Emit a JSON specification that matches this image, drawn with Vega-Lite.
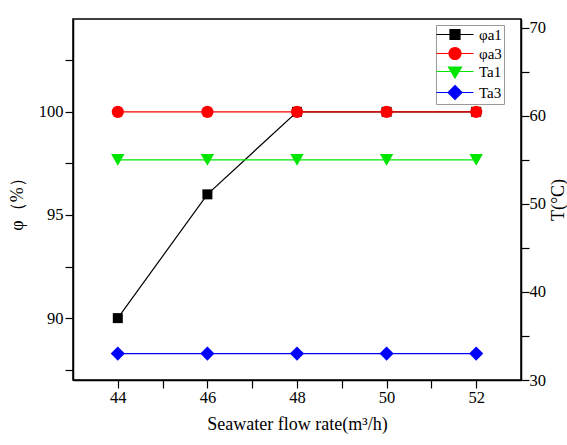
{
  "$schema": "https://vega.github.io/schema/vega-lite/v6.json",
  "width": 448,
  "height": 361,
  "autosize": {"type": "none"},
  "padding": {"left": 73, "top": 19, "right": 46, "bottom": 65},
  "background": "white",
  "config": {
    "font": "Liberation Serif",
    "view": {"stroke": "black", "strokeWidth": 1.5},
    "axis": {
      "grid": false,
      "zindex": 2,
      "domainColor": "black",
      "domainWidth": 1.5,
      "tickColor": "black",
      "tickWidth": 1.2,
      "labelColor": "black",
      "titleColor": "black",
      "labelFont": "Liberation Serif",
      "titleFont": "Liberation Serif",
      "labelFontSize": 16.5,
      "titleFontSize": 18,
      "titleFontWeight": "normal"
    }
  },
  "data": {
    "values": [
      {"x": 44, "series": "φa1", "v": 90},
      {"x": 46, "series": "φa1", "v": 96},
      {"x": 48, "series": "φa1", "v": 100},
      {"x": 50, "series": "φa1", "v": 100},
      {"x": 52, "series": "φa1", "v": 100},
      {"x": 44, "series": "φa3", "v": 100},
      {"x": 46, "series": "φa3", "v": 100},
      {"x": 48, "series": "φa3", "v": 100},
      {"x": 50, "series": "φa3", "v": 100},
      {"x": 52, "series": "φa3", "v": 100},
      {"x": 44, "series": "Ta1", "v": 55},
      {"x": 46, "series": "Ta1", "v": 55},
      {"x": 48, "series": "Ta1", "v": 55},
      {"x": 50, "series": "Ta1", "v": 55},
      {"x": 52, "series": "Ta1", "v": 55},
      {"x": 44, "series": "Ta3", "v": 33},
      {"x": 46, "series": "Ta3", "v": 33},
      {"x": 48, "series": "Ta3", "v": 33},
      {"x": 50, "series": "Ta3", "v": 33},
      {"x": 52, "series": "Ta3", "v": 33}
    ]
  },
  "encoding": {
    "x": {
      "field": "x",
      "type": "quantitative",
      "scale": {"domain": [43, 53], "nice": false, "zero": false},
      "axis": {
        "title": "Seawater flow rate(m³/h)",
        "values": [44, 45, 46, 47, 48, 49, 50, 51, 52],
        "labelExpr": "datum.value % 2 == 0 ? datum.label : ''",
        "tickSize": 8,
        "labelPadding": 1,
        "titlePadding": 10,
        "encode": {"ticks": {"update": {"y2": {"signal": "datum.value % 2 == 0 ? -8 : -4"}}}}
      }
    },
    "color": {
      "field": "series",
      "type": "nominal",
      "scale": {"domain": ["φa1", "φa3", "Ta1", "Ta3"], "range": ["#000000", "#ff0000", "#00e600", "#0000ff"]},
      "legend": {
        "title": null,
        "orient": "none",
        "legendX": 363,
        "legendY": 6,
        "direction": "vertical",
        "strokeColor": "#999999",
        "fillColor": "white",
        "padding": 2,
        "symbolSize": 100,
        "symbolStrokeWidth": 1.2,
        "labelFont": "Liberation Serif",
        "labelFontSize": 15,
        "labelColor": "black",
        "labelOffset": 26,
        "rowPadding": 2,
        "encode": {
          "symbols": {
            "update": {
              "shape": {"signal": "datum.value == 'φa1' ? 'M-1.8,0H5.6M0.9,-1H2.9V1H0.9Z' : datum.value == 'φa3' ? 'M-1.8,0H5.6M0.7,0A1.2,1.2,0,1,1,3.1,0A1.2,1.2,0,1,1,0.7,0Z' : datum.value == 'Ta1' ? 'M-1.8,0H5.6M0.6,-0.9H3.2L1.9,1.3Z' : 'M-1.8,0H5.6M1.9,-1.4L3.3,0L1.9,1.4L0.5,0Z'"},
              "fill": {"signal": "scale('color', datum.value)"},
              "stroke": {"signal": "scale('color', datum.value)"},
              "opacity": {"value": 1}
            }
          }
        }
      }
    }
  },
  "layer": [
    {
      "transform": [{"filter": "datum.series == 'φa1' || datum.series == 'φa3'"}],
      "encoding": {
        "y": {
          "field": "v",
          "type": "quantitative",
          "scale": {"domain": [87, 104.5], "nice": false, "zero": false},
          "axis": {
            "orient": "left",
            "title": "φ（%）",
            "values": [87.5, 90, 92.5, 95, 97.5, 100, 102.5],
            "labelExpr": "datum.value % 5 == 0 ? datum.label : ''",
            "tickSize": 8,
            "labelPadding": 2,
            "titlePadding": 12,
            "encode": {"ticks": {"update": {"x2": {"signal": "datum.value % 5 == 0 ? 8 : 4"}}}}
          }
        }
      },
      "layer": [
        {"mark": {"type": "line", "strokeWidth": 1.2}, "encoding": {"detail": {"field": "series"}}},
        {"transform": [{"filter": "datum.series == 'φa1'"}], "mark": {"type": "point", "shape": "square", "size": 100, "filled": true, "opacity": 1}},
        {"transform": [{"filter": "datum.series == 'φa3'"}], "mark": {"type": "point", "shape": "circle", "size": 150, "filled": true, "opacity": 1}}
      ]
    },
    {
      "transform": [{"filter": "datum.series == 'Ta1' || datum.series == 'Ta3'"}],
      "encoding": {
        "y": {
          "field": "v",
          "type": "quantitative",
          "scale": {"domain": [30, 71], "nice": false, "zero": false},
          "axis": {
            "orient": "right",
            "title": "T(°C)",
            "titleAngle": 270,
            "values": [30, 35, 40, 45, 50, 55, 60, 65, 70],
            "labelExpr": "datum.value % 10 == 0 ? datum.label : ''",
            "tickSize": 8,
            "labelPadding": 0,
            "titlePadding": 22,
            "encode": {"ticks": {"update": {"x2": {"signal": "datum.value % 10 == 0 ? -8 : -4"}}}}
          }
        }
      },
      "layer": [
        {"mark": {"type": "line", "strokeWidth": 1.2}, "encoding": {"detail": {"field": "series"}}},
        {"transform": [{"filter": "datum.series == 'Ta1'"}], "mark": {"type": "point", "shape": "triangle-down", "size": 180, "filled": true, "opacity": 1}},
        {"transform": [{"filter": "datum.series == 'Ta3'"}], "mark": {"type": "point", "shape": "diamond", "size": 200, "filled": true, "opacity": 1}}
      ]
    }
  ],
  "resolve": {"scale": {"y": "independent"}, "axis": {"y": "independent"}}
}
